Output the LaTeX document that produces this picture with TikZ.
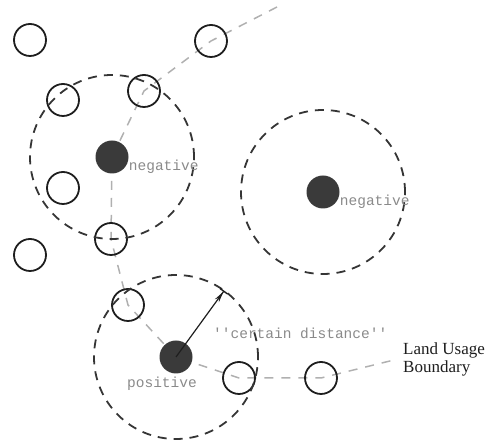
\documentclass[tikz,border=0pt]{standalone}
\usepackage{fontspec}
\setmainfont{Liberation Serif}
\setmonofont{Liberation Mono}
\usetikzlibrary{calc,positioning,arrows.meta,backgrounds}
\definecolor{Ink}{HTML}{1E1E1E}
\definecolor{Dot}{HTML}{3A3A3A}
\definecolor{Fog}{HTML}{B0B0B0}
\definecolor{Tag}{HTML}{8A8A8A}

\begin{document}
\begin{tikzpicture}[x=1pt,y=1pt,
    site/.style={circle,draw=Ink,line width=1.8pt,minimum size=32pt,inner sep=0pt},
    hit/.style={circle,fill=Dot,minimum size=33pt,inner sep=0pt},
    reach/.style={Ink!90,line width=1.8pt,dash pattern=on 9pt off 7pt},
    border/.style={Fog,line width=1.5pt,dash pattern=on 9pt off 8pt},
    tag/.style={text=Tag,font=\ttfamily\fontsize{14.5}{16}\selectfont,inner sep=0pt}]
        \useasboundingbox (0,0) rectangle (493,443);
        % plain samples
        \foreach \n/\x/\y in {s1/30/403,s2/211/402,s3/63/343,s4/144/352,s5/63/255,s6/111/204,s7/30/188,s8/128/138,s9/239/65,s10/321/65}{
          \node[site] (\n) at (\x,\y) {};
        }
        % labelled samples
        \node[hit] (negA) at (112,286) {};
        \node[hit] (negB) at (323,251) {};
        \node[hit] (pos) at (176,86) {};
        \foreach \c in {negA,negB,pos}{
          \draw[reach] (\c.center) circle[radius=82];
        }
        \node[tag,anchor=west] (labA) at ([yshift=-10pt]negA.east) {negative};
        \node[tag,anchor=west] (labB) at ([yshift=-10pt]negB.east) {negative};
        \node[tag,below=3pt of pos,xshift=-14pt] (labP) {positive};
        \node[tag,anchor=west] (dist) at (213,110) {''certain distance''};
        \node[anchor=west,align=left,text=Ink,font=\fontsize{17}{18}\selectfont,inner sep=0pt] (land) at (403,84) {Land Usage\\Boundary};
        \coordinate (rim) at ($(pos.center)+(54:82)$);
        \draw[Ink,line width=1.2pt,-{Stealth[length=11pt,width=5pt]Bar[width=9pt,line width=1.4pt]}] (pos.center) -- (rim);
        % boundary line
        \coordinate (far) at (277,436);
        \begin{pgfonlayer}{background}
          \draw[border] (far) -- (s2.center) -- (s4.center) -- (negA.center) -- (s6.center) -- (s8.center) -- (pos.center) -- (s9.center) -- (s10.center) -- ([xshift=-5pt]land.west);
        \end{pgfonlayer}
      \end{tikzpicture}
\end{document}
